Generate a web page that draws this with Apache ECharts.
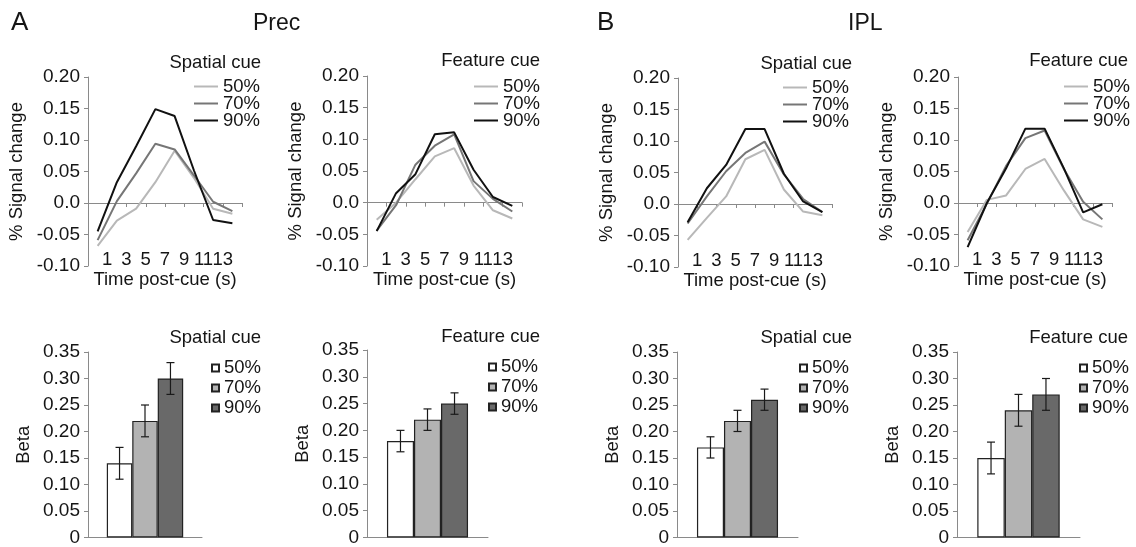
<!DOCTYPE html>
<html>
<head>
<meta charset="utf-8">
<script src="https://cdn.jsdelivr.net/npm/echarts@6/dist/echarts.min.js"></script>
<style>
html, body {margin: 0; padding: 0; background: #fff;}
#chart_main {width: 1136px; height: 547px;}
</style>
</head>
<body>
<div id="chart_main"></div>
<script>
var times = [0, 2, 4, 6, 8, 10, 12, 14];
var levels = ['50%', '70%', '90%'];

// % signal change, Prec
var prec_spatial_50 = [-0.068, -0.028, -0.009, 0.033, 0.083, 0.040, -0.009, -0.017];
var prec_spatial_70 = [-0.059, 0.003, 0.047, 0.094, 0.085, 0.044, 0.002, -0.013];
var prec_spatial_90 = [-0.045, 0.033, 0.090, 0.149, 0.138, 0.052, -0.027, -0.032];
var prec_feature_50 = [-0.027, 0.000, 0.037, 0.073, 0.086, 0.027, -0.012, -0.025];
var prec_feature_70 = [-0.044, -0.004, 0.060, 0.090, 0.108, 0.034, 0.006, -0.014];
var prec_feature_90 = [-0.045, 0.015, 0.045, 0.108, 0.111, 0.052, 0.009, -0.005];

// % signal change, IPL
var ipl_spatial_50 = [-0.057, -0.022, 0.012, 0.071, 0.086, 0.023, -0.012, -0.018];
var ipl_spatial_70 = [-0.031, 0.012, 0.052, 0.081, 0.099, 0.047, 0.008, -0.013];
var ipl_spatial_90 = [-0.029, 0.025, 0.062, 0.119, 0.119, 0.048, 0.004, -0.013];
var ipl_feature_50 = [-0.046, 0.005, 0.012, 0.054, 0.070, 0.020, -0.026, -0.038];
var ipl_feature_70 = [-0.059, -0.001, 0.059, 0.103, 0.115, 0.054, 0.002, -0.026];
var ipl_feature_90 = [-0.070, 0.000, 0.055, 0.118, 0.118, 0.055, -0.015, -0.002];

// beta +- error
var prec_spatial_beta = [0.14, 0.22, 0.30];
var prec_spatial_err = [0.03, 0.03, 0.03];
var prec_feature_beta = [0.18, 0.22, 0.25];
var prec_feature_err = [0.02, 0.02, 0.02];
var ipl_spatial_beta = [0.17, 0.22, 0.26];
var ipl_spatial_err = [0.02, 0.02, 0.02];
var ipl_feature_beta = [0.15, 0.24, 0.27];
var ipl_feature_err = [0.03, 0.03, 0.03];

var font = '"Liberation Sans", Arial, sans-serif';
var text_color = '#151515';
var axis_color = '#8a8a8a';
var line_colors = ['#b8b8b8', '#767676', '#111111'];
var bar_colors = ['#ffffff', '#b3b3b3', '#696969'];
var bar_cat_gap = 0.33;

var grid = [], xAxis = [], yAxis = [], series = [], legend = [], title = [];

function pairs(values){
	var out = [];
	for (var i = 0; i < values.length; i++) out.push([times[i], values[i]]);
	return out;
}

function strip_name(name){
	return name.replace(/^\w+ /, '');
}

function txt(size){
	return {fontSize: size, color: text_color, fontFamily: font, fontWeight: 'normal'};
}

function render_err(params, api){
	var k = api.value(3);
	var lo = api.coord([api.value(0), api.value(1)]);
	var hi = api.coord([api.value(0), api.value(2)]);
	var band = api.size([1, 0])[0];
	var bw = band * (1 - bar_cat_gap) / 3;
	var x = lo[0] + (k - 1) * bw;
	var cap = 4;
	var st = {stroke: '#1a1a1a', lineWidth: 1.2};
	return {type: 'group', children: [
		{type: 'line', shape: {x1: x, y1: lo[1], x2: x, y2: hi[1]}, style: st},
		{type: 'line', shape: {x1: x - cap, y1: lo[1], x2: x + cap, y2: lo[1]}, style: st},
		{type: 'line', shape: {x1: x - cap, y1: hi[1], x2: x + cap, y2: hi[1]}, style: st}
	]};
}

function add_line_panel(g, sets, cue, leg, ttl){
	var gi = grid.length;
	grid.push(g);
	var xi = xAxis.length;
	// labels sit at the bottom, the axis line itself crosses at zero
	xAxis.push({
		gridIndex: gi, type: 'value', min: -1, max: 15, interval: 2, position: 'bottom',
		axisLine: {show: false, onZero: false}, axisTick: {show: false}, splitLine: {show: false},
		axisLabel: {margin: -16, fontSize: 18.5, color: text_color, fontFamily: font,
			formatter: function(v){ return (v < 0 || v > 14) ? '' : String(v); }},
		name: 'Time post-cue (s)', nameLocation: 'middle', nameGap: 4, nameTextStyle: txt(18.5)
	});
	xAxis.push({
		gridIndex: gi, type: 'value', min: -1, max: 15, interval: 2, position: 'bottom',
		axisLine: {show: true, onZero: true, lineStyle: {color: axis_color, width: 1}},
		axisTick: {show: true, length: 4, lineStyle: {color: axis_color}},
		axisLabel: {show: false}, splitLine: {show: false}
	});
	var yi = yAxis.length;
	yAxis.push({
		gridIndex: gi, type: 'value', min: -0.1, max: 0.2, interval: 0.05,
		axisLine: {show: true, onZero: false, lineStyle: {color: axis_color, width: 1}},
		axisTick: {show: true, length: 4, lineStyle: {color: axis_color}},
		splitLine: {show: false},
		axisLabel: {margin: 8, fontSize: 19, color: text_color, fontFamily: font,
			formatter: function(v){ return Math.abs(v) < 1e-9 ? '0.0' : v.toFixed(2); }},
		name: '% Signal change', nameLocation: 'middle', nameGap: 62, nameTextStyle: txt(18.5)
	});
	for (var k = 0; k < 3; k++){
		series.push({
			name: 'line ' + levels[k], type: 'line', xAxisIndex: xi, yAxisIndex: yi,
			data: pairs(sets[k]), symbol: 'none', z: 3 + k,
			lineStyle: {color: line_colors[k], width: 2}, itemStyle: {color: line_colors[k]}
		});
	}
	legend.push({
		orient: 'vertical', left: leg[0], top: leg[1], padding: 0, itemGap: -2,
		itemWidth: 24, itemHeight: 2, icon: 'rect', selectedMode: false,
		data: levels.map(function(l){ return 'line ' + l; }), formatter: strip_name,
		textStyle: {fontSize: 18.5, lineHeight: 17, color: text_color, fontFamily: font}
	});
	title.push({text: cue, right: ttl[0], top: ttl[1], padding: 0, textStyle: txt(18.5)});
}

function add_bar_panel(g, beta, err, cue, leg, ttl){
	var gi = grid.length;
	grid.push(g);
	var xi = xAxis.length;
	xAxis.push({
		gridIndex: gi, type: 'category', data: ['beta'],
		axisLine: {show: true, lineStyle: {color: axis_color, width: 1}},
		axisTick: {show: false}, axisLabel: {show: false}, splitLine: {show: false}
	});
	var yi = yAxis.length;
	yAxis.push({
		gridIndex: gi, type: 'value', min: 0, max: 0.35, interval: 0.05,
		axisLine: {show: true, onZero: false, lineStyle: {color: axis_color, width: 1}},
		axisTick: {show: true, length: 4, lineStyle: {color: axis_color}},
		splitLine: {show: false},
		axisLabel: {margin: 8, fontSize: 19, color: text_color, fontFamily: font,
			formatter: function(v){ return v === 0 ? '0' : v.toFixed(2); }},
		name: 'Beta', nameLocation: 'middle', nameGap: 55, nameTextStyle: txt(18.5)
	});
	for (var k = 0; k < 3; k++){
		series.push({
			name: 'bar ' + levels[k], type: 'bar', xAxisIndex: xi, yAxisIndex: yi,
			data: [beta[k]], barGap: '0%', barCategoryGap: (bar_cat_gap * 100) + '%',
			itemStyle: {color: bar_colors[k], borderColor: '#222', borderWidth: 1.2}
		});
	}
	series.push({
		type: 'custom', xAxisIndex: xi, yAxisIndex: yi, z: 10, silent: true,
		encode: {x: 0, y: [1, 2]},
		data: beta.map(function(b, k){ return [0, b - err[k], b + err[k], k]; }),
		renderItem: render_err
	});
	legend.push({
		orient: 'vertical', left: leg[0], top: leg[1], padding: 0, itemGap: 0,
		itemWidth: 7, itemHeight: 7, icon: 'rect', selectedMode: false,
		data: levels.map(function(l){ return 'bar ' + l; }), formatter: strip_name,
		textStyle: {fontSize: 18.5, lineHeight: 20, color: text_color, fontFamily: font}
	});
	title.push({text: cue, right: ttl[0], top: ttl[1], padding: 0, textStyle: txt(18.5)});
}

add_line_panel({left: 88, top: 77, width: 154, height: 189}, [prec_spatial_50, prec_spatial_70, prec_spatial_90], 'Spatial cue', [194, 77], [875, 53]);
add_line_panel({left: 367, top: 76, width: 155, height: 190}, [prec_feature_50, prec_feature_70, prec_feature_90], 'Feature cue', [474, 77], [596, 51]);
add_line_panel({left: 678, top: 78, width: 154, height: 189}, [ipl_spatial_50, ipl_spatial_70, ipl_spatial_90], 'Spatial cue', [783, 78], [284, 54]);
add_line_panel({left: 958, top: 77, width: 154, height: 189}, [ipl_feature_50, ipl_feature_70, ipl_feature_90], 'Feature cue', [1064, 77], [8, 51]);

add_bar_panel({left: 88, top: 352, width: 114, height: 188}, prec_spatial_beta, prec_spatial_err, 'Spatial cue', [211, 358], [875, 328]);
add_bar_panel({left: 367, top: 350, width: 121, height: 189}, prec_feature_beta, prec_feature_err, 'Feature cue', [488, 357], [596, 327]);
add_bar_panel({left: 677, top: 352, width: 121, height: 188}, ipl_spatial_beta, ipl_spatial_err, 'Spatial cue', [799, 358], [284, 328]);
add_bar_panel({left: 957, top: 352, width: 123, height: 188}, ipl_feature_beta, ipl_feature_err, 'Feature cue', [1079, 358], [8, 328]);

title.push({text: 'A', left: 11, top: 10, padding: 0, textStyle: txt(26)});
title.push({text: 'B', left: 597, top: 10, padding: 0, textStyle: txt(26)});
title.push({text: 'Prec', left: 253, top: 12, padding: 0, textStyle: txt(23)});
title.push({text: 'IPL', left: 848, top: 12, padding: 0, textStyle: txt(23)});

var myChart = echarts.init(document.getElementById('chart_main'), null, {renderer: 'canvas'});
myChart.setOption({
	animation: false,
	backgroundColor: '#fff',
	textStyle: {fontFamily: font},
	title: title,
	legend: legend,
	grid: grid,
	xAxis: xAxis,
	yAxis: yAxis,
	series: series
});
</script>
</body>
</html>
